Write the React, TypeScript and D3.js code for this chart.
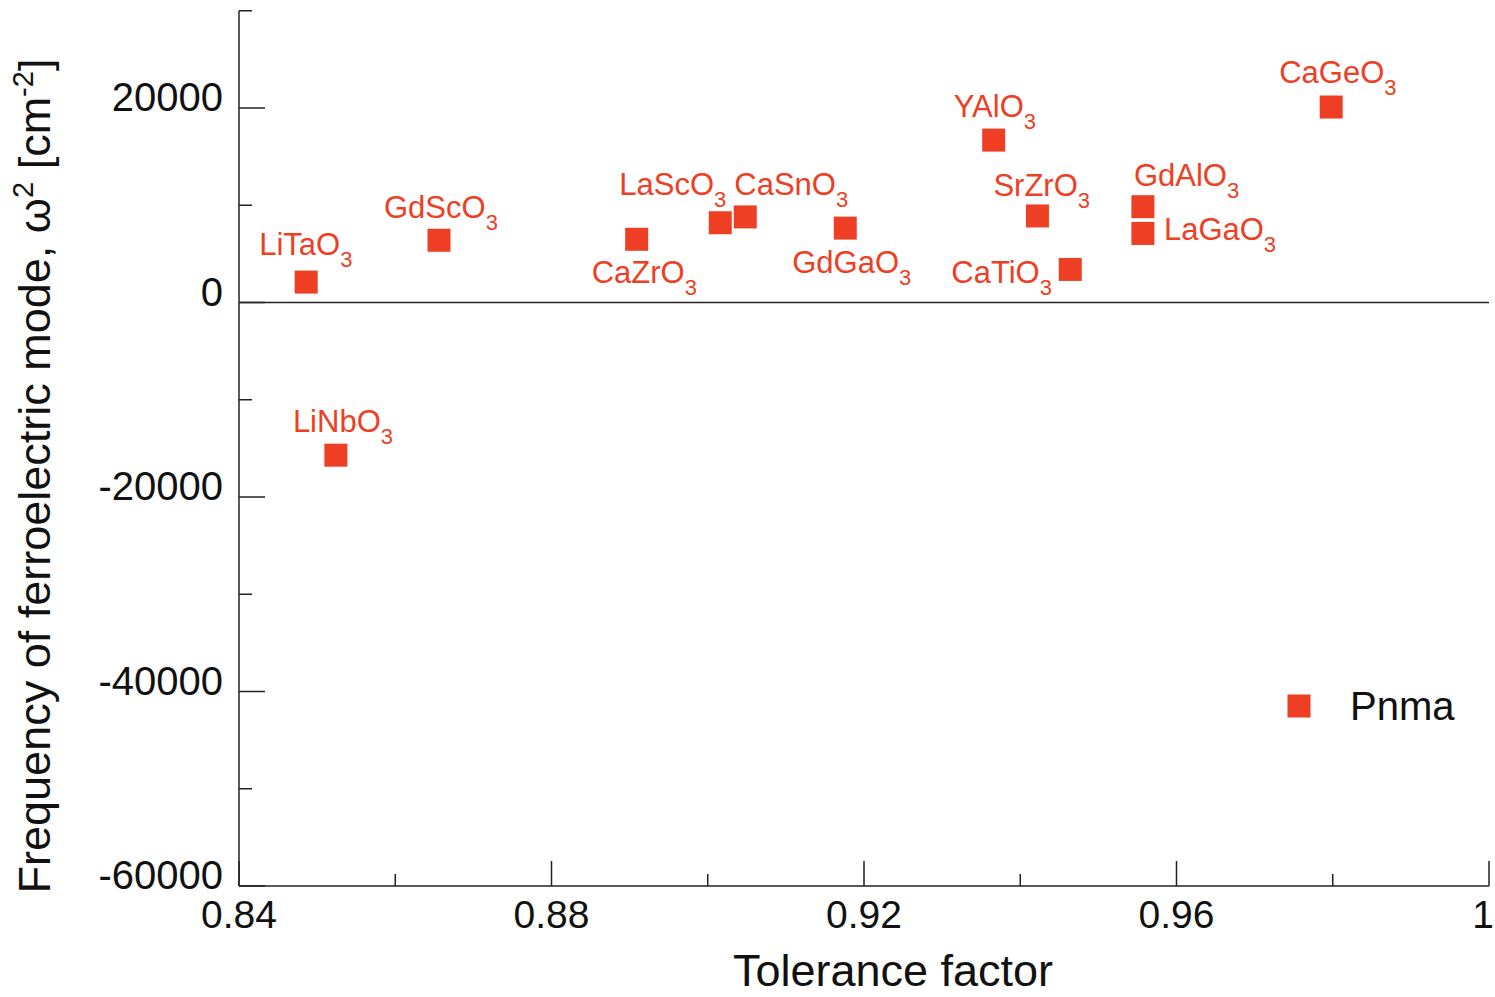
import React from "react";
import * as d3 from "d3";

// Compounds in the Pnma structure: tolerance factor vs. ω² of the ferroelectric mode
const compounds = [
  "LiTaO", "LiNbO", "GdScO", "CaZrO", "LaScO", "CaSnO", "GdGaO",
  "YAlO", "SrZrO", "CaTiO", "GdAlO", "LaGaO", "CaGeO",
];
const toleranceFactor = [
  0.8486, 0.8524, 0.8656, 0.8909, 0.9016, 0.9048, 0.9176,
  0.9366, 0.9422, 0.9464, 0.9557, 0.9557, 0.9798,
];
const omegaSquared = [
  2100, -15700, 6400, 6500, 8200, 8800, 7650,
  16700, 8900, 3400, 9850, 7100, 20100,
];
// Label placement relative to each marker: [dx of text start, dy of baseline]
const labelOffsets: [number, number][] = [
  [-47, -27], [-43, -23], [-55, -22], [-45, 44], [-101, -28], [-11, -22], [-53, 45],
  [-40, -23], [-44, -20], [-119, 14], [-9, -21], [21, 7], [-52, -24],
];

const xMajorTicks = [0.84, 0.88, 0.92, 0.96, 1];
const xMinorTicks = [0.86, 0.9, 0.94, 0.98];
const yMajorTicks = [-60000, -40000, -20000, 0, 20000];
const yMinorTicks = [-50000, -30000, -10000, 10000, 30000];

const seriesName = "Pnma";
const xTitle = "Tolerance factor";

const W = 1495;
const H = 997;
const RED = "#ee3e23";
const AXIS = "#222";
const FONT = "'Liberation Sans', Arial, Helvetica, sans-serif";

export default function App() {
  const x = d3.scaleLinear().domain([0.84, 1]).range([239, 1489]);
  const y = d3.scaleLinear().domain([-60000, 30000]).range([886, 10.75]);
  const x0 = x(0.84);
  const y0 = y(-60000);
  const fmtX = (v: number) => (v === 1 ? "1" : d3.format(".2f")(v));
  // keep the last tick label inside the drawing
  const xLabelPos = (v: number) => Math.min(x(v), W - 12);
  const sq = 23;

  return (
    <svg
      width={W}
      height={H}
      style={{ position: "absolute", left: 0, top: 0, background: "#fff" }}
      fontFamily={FONT}
    >
      <rect width={W} height={H} fill="#fff" />
      {/* axes */}
      <line x1={x0} x2={x0} y1={y(30000)} y2={y0} stroke={AXIS} strokeWidth={1.5} />
      <line x1={x0} x2={x(1)} y1={y0} y2={y0} stroke={AXIS} strokeWidth={1.5} />
      <line x1={x0} x2={x(1)} y1={y(0)} y2={y(0)} stroke={AXIS} strokeWidth={1.5} />

      {yMajorTicks.map((v) => (
        <g key={"ym" + v}>
          <line x1={x0} x2={x0 + 26} y1={y(v)} y2={y(v)} stroke={AXIS} strokeWidth={1.5} />
          <text x={x0 - 16} y={y(v) + 3} textAnchor="end" fontSize={40} fill="#111">
            {String(v)}
          </text>
        </g>
      ))}
      {yMinorTicks.map((v) => (
        <line key={"yn" + v} x1={x0} x2={x0 + 13} y1={y(v)} y2={y(v)} stroke={AXIS} strokeWidth={1.5} />
      ))}
      {xMajorTicks.map((v) => (
        <g key={"xm" + v}>
          <line x1={x(v)} x2={x(v)} y1={y0} y2={y0 - 25} stroke={AXIS} strokeWidth={1.5} />
          <text x={xLabelPos(v)} y={y0 + 42} textAnchor="middle" fontSize={39} fill="#111">
            {fmtX(v)}
          </text>
        </g>
      ))}
      {xMinorTicks.map((v) => (
        <line key={"xn" + v} x1={x(v)} x2={x(v)} y1={y0} y2={y0 - 12} stroke={AXIS} strokeWidth={1.5} />
      ))}

      {/* axis titles */}
      <text x={893} y={986} textAnchor="middle" fontSize={45} fill="#111">
        {xTitle}
      </text>
      <text
        transform={`translate(50, 476) rotate(-90)`}
        textAnchor="middle"
        fontSize={45}
        fill="#111"
      >
        Frequency of ferroelectric mode, ω
        <tspan fontSize={29} dy={-17}>2</tspan>
        <tspan dy={17}> [cm</tspan>
        <tspan fontSize={29} dy={-17}>-2</tspan>
        <tspan dy={17}>]</tspan>
      </text>

      {/* markers and labels */}
      {compounds.map((name, i) => {
        const cx = x(toleranceFactor[i]);
        const cy = y(omegaSquared[i]);
        const [dx, dy] = labelOffsets[i];
        return (
          <g key={name + i}>
            <rect x={cx - sq / 2} y={cy - sq / 2} width={sq} height={sq} fill={RED} />
            <text x={cx + dx} y={cy + dy} fontSize={31} fill={RED}>
              {name}
              <tspan fontSize={22} dy={12}>3</tspan>
            </text>
          </g>
        );
      })}

      {/* legend */}
      <rect x={1299 - sq / 2} y={706 - sq / 2} width={sq} height={sq} fill={RED} />
      <text x={1350} y={720} fontSize={40} fill="#111">
        {seriesName}
      </text>
    </svg>
  );
}
